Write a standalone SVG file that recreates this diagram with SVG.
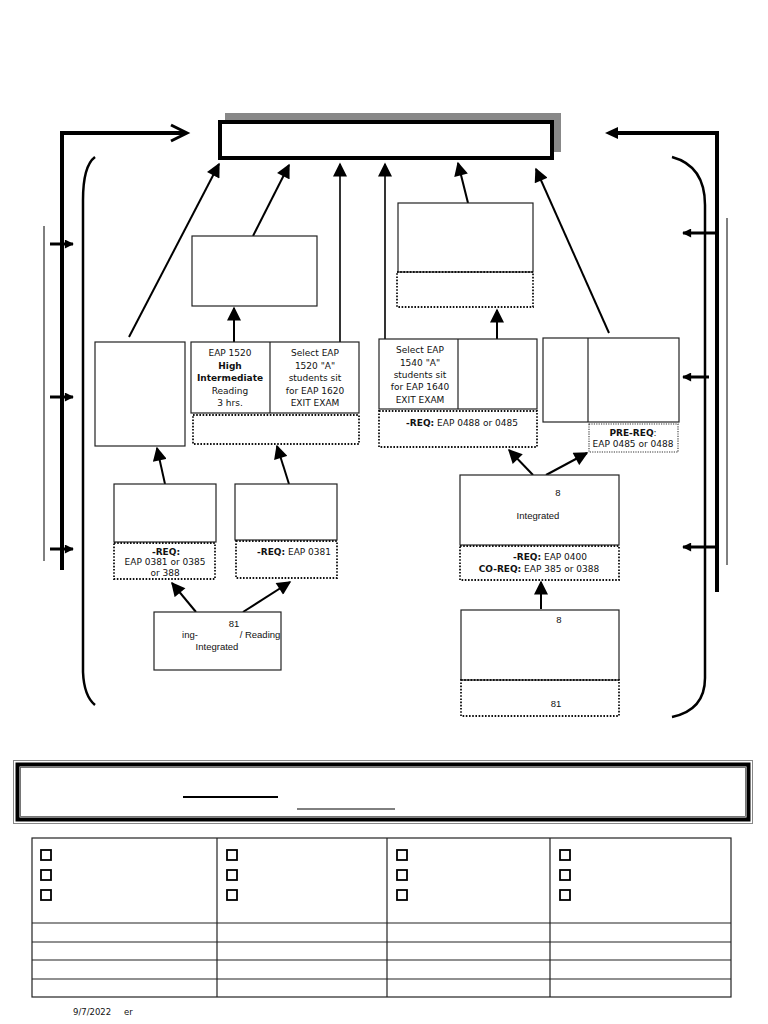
<svg xmlns="http://www.w3.org/2000/svg" width="768" height="1024" viewBox="0 0 768 1024">
<defs>
<marker id="ah" viewBox="0 0 10 10" refX="9" refY="5" markerWidth="15" markerHeight="14" markerUnits="userSpaceOnUse" orient="auto"><path d="M0,0 L10,5 L0,10 z" fill="#000"/></marker>
<marker id="sa" viewBox="0 0 10 10" refX="9" refY="5" markerWidth="10" markerHeight="9" markerUnits="userSpaceOnUse" orient="auto"><path d="M0,0 L10,5 L0,10 z" fill="#000"/></marker>
</defs>
<style>
.box{fill:#fff;stroke:#222;stroke-width:1.2}
.dot{fill:none;stroke:#111;stroke-width:1.8;stroke-dasharray:1.6 1.6}
.dot2{fill:none;stroke:#333;stroke-width:1.1;stroke-dasharray:1.2 1.2}
.con{fill:none;stroke:#000;stroke-width:2;marker-end:url(#ah)}
.conT{fill:none;stroke:#000;stroke-width:1.6;marker-end:url(#ah)}
.side{fill:none;stroke:#000;stroke-width:3;marker-end:url(#sa)}
.thick{fill:none;stroke:#000;stroke-width:4}
.thin{fill:none;stroke:#000;stroke-width:1}
.paren{fill:none;stroke:#000;stroke-width:2.5}
.t{font-family:"DejaVu Sans",Verdana,sans-serif;font-size:9px;fill:#111;text-anchor:middle}
.a{font-family:"Liberation Sans",Arial,sans-serif;font-size:9.5px;fill:#111;text-anchor:middle}
.b{font-weight:bold}
.cb{fill:#fff;stroke:#000;stroke-width:1.8}
.tb{fill:none;stroke:#222;stroke-width:1.2}
.ft{font-family:"DejaVu Sans",Verdana,sans-serif;font-size:8.5px;fill:#111}
</style>

<g id="title">
<rect x="225" y="113" width="336" height="39" fill="#888"/>
<rect x="220" y="122" width="332" height="36" fill="#fff" stroke="#000" stroke-width="4"/>
</g>

<g id="frame">
<path class="thick" d="M62,570 L62,133 L185,133"/>
<path d="M171,125 L187,133 L171,141" fill="none" stroke="#000" stroke-width="3"/>
<path class="thin" d="M44,226 L44,561"/>
<path class="paren" d="M95,157 Q83,166 83,200 L83,672 Q84,696 95,705"/>
<path class="thick" d="M717,592 L717,133 L618,133"/>
<path d="M618,127 L605,133 L618,139 z" fill="#000"/>
<path class="thin" d="M727,218 L727,565"/>
<path class="paren" d="M672,157 Q705,166 705,205 L705,678 Q705,710 672,717"/>
</g>

<g id="connectors">
<line class="side" x1="50" y1="244" x2="73" y2="244"/>
<line class="side" x1="50" y1="397" x2="73" y2="397"/>
<line class="side" x1="50" y1="549" x2="73" y2="549"/>
<line class="side" x1="717" y1="233" x2="683" y2="233"/>
<line class="side" x1="709" y1="377" x2="683" y2="377"/>
<line class="side" x1="717" y1="547" x2="683" y2="547"/>
<line class="con" x1="129" y1="337" x2="219" y2="164"/>
<line class="con" x1="253" y1="236" x2="289" y2="165"/>
<line class="conT" x1="340" y1="342" x2="340" y2="164"/>
<line class="conT" x1="385" y1="339" x2="385" y2="164"/>
<line class="con" x1="468" y1="203" x2="458" y2="163"/>
<line class="con" x1="609" y1="333" x2="536" y2="169"/>
<line class="con" x1="234" y1="342" x2="234" y2="308"/>
<line class="con" x1="497" y1="339" x2="497" y2="310"/>
<line class="con" x1="165" y1="484" x2="157" y2="448"/>
<line class="con" x1="289" y1="484" x2="277" y2="446"/>
<line class="con" x1="196" y1="612" x2="172" y2="583"/>
<line class="con" x1="243" y1="612" x2="290" y2="582"/>
<line class="con" x1="533" y1="475" x2="509" y2="450"/>
<line class="con" x1="546" y1="475" x2="587" y2="453"/>
<line class="con" x1="541" y1="609" x2="541" y2="582"/>
</g>

<g id="node-a"><rect class="box" x="95" y="342" width="90" height="104"/></g>
<g id="node-b"><rect class="box" x="192" y="236" width="125" height="70"/></g>
<g id="node-c">
<rect class="box" x="191" y="342" width="168" height="71"/>
<line x1="270" y1="342" x2="270" y2="413" stroke="#222" stroke-width="1.2"/>
<text class="t" x="230" y="356">EAP 1520</text>
<text class="t b" x="230" y="369">High</text>
<text class="t b" x="230" y="381">Intermediate</text>
<text class="t" x="230" y="394">Reading</text>
<text class="t" x="230" y="406">3 hrs.</text>
<text class="t" x="315" y="356">Select EAP</text>
<text class="t" x="315" y="369">1520 "A"</text>
<text class="t" x="315" y="381">students sit</text>
<text class="t" x="315" y="394">for EAP 1620</text>
<text class="t" x="315" y="406">EXIT EXAM</text>
<rect class="dot" x="193" y="415" width="166" height="29"/>
</g>
<g id="node-d">
<rect class="box" x="114" y="484" width="102" height="58"/>
<rect class="dot" x="114" y="543" width="101" height="36"/>
<text class="t b" x="166" y="555">-REQ:</text>
<text class="t" x="165" y="565">EAP 0381 or 0385</text>
<text class="t" x="165" y="576">or 388</text>
</g>
<g id="node-e">
<rect class="box" x="235" y="484" width="102" height="56"/>
<rect class="dot" x="236" y="541" width="101" height="37"/>
<text class="t" x="294" y="555"><tspan class="b">-REQ:</tspan> EAP 0381</text>
</g>
<g id="node-f">
<rect class="box" x="154" y="612" width="127" height="58"/>
<text class="a" x="234" y="627">81</text>
<text class="a" x="190" y="638">ing-</text>
<text class="a" x="260" y="638">/ Reading</text>
<text class="a" x="217" y="650">Integrated</text>
</g>
<g id="node-g">
<rect class="box" x="398" y="203" width="135" height="69"/>
<rect class="dot" x="397" y="272" width="136" height="35"/>
</g>
<g id="node-h">
<rect class="box" x="379" y="339" width="158" height="70"/>
<line x1="458" y1="339" x2="458" y2="409" stroke="#222" stroke-width="1.2"/>
<text class="t" x="420" y="353">Select EAP</text>
<text class="t" x="420" y="366">1540 "A"</text>
<text class="t" x="420" y="378">students sit</text>
<text class="t" x="420" y="390">for EAP 1640</text>
<text class="t" x="420" y="403">EXIT EXAM</text>
<rect class="dot" x="379" y="411" width="158" height="36"/>
<text class="t" x="462" y="426"><tspan class="b">-REQ:</tspan> EAP 0488 or 0485</text>
</g>
<g id="node-i">
<rect class="box" x="543" y="338" width="136" height="84"/>
<line x1="588" y1="338" x2="588" y2="422" stroke="#222" stroke-width="1.2"/>
<rect class="dot2" x="589" y="424" width="89" height="28"/>
<text class="t" x="633" y="436"><tspan class="b">PRE-REQ</tspan>:</text>
<text class="t" x="633" y="447">EAP 0485 or 0488</text>
</g>
<g id="node-j">
<rect class="box" x="460" y="475" width="159" height="70"/>
<text class="a" x="558" y="496">8</text>
<text class="a" x="538" y="519">Integrated</text>
<rect class="dot" x="460" y="546" width="159" height="34"/>
<text class="t" x="550" y="560"><tspan class="b">-REQ:</tspan> EAP 0400</text>
<text class="t" x="539" y="572"><tspan class="b">CO-REQ:</tspan> EAP 385 or 0388</text>
</g>
<g id="node-k">
<rect class="box" x="461" y="610" width="158" height="70"/>
<text class="a" x="559" y="623">8</text>
<rect class="dot" x="461" y="680" width="158" height="36"/>
<text class="a" x="556" y="707">81</text>
</g>

<g id="banner">
<rect x="13.5" y="760.5" width="739" height="63" fill="none" stroke="#888" stroke-width="1"/>
<rect x="17.5" y="764.5" width="731" height="55" fill="none" stroke="#000" stroke-width="4"/>
<rect x="20.5" y="767.5" width="725" height="49" fill="none" stroke="#555" stroke-width="0.8"/>
<line x1="183" y1="797" x2="278" y2="797" stroke="#000" stroke-width="2"/>
<line x1="297" y1="809" x2="395" y2="809" stroke="#000" stroke-width="1"/>
</g>

<g id="table">
<rect class="tb" x="32" y="838" width="699" height="159"/>
<line class="tb" x1="217" y1="838" x2="217" y2="997"/>
<line class="tb" x1="387" y1="838" x2="387" y2="997"/>
<line class="tb" x1="550" y1="838" x2="550" y2="997"/>
<line class="tb" x1="32" y1="923" x2="731" y2="923"/>
<line class="tb" x1="32" y1="942" x2="731" y2="942"/>
<line class="tb" x1="32" y1="960" x2="731" y2="960"/>
<line class="tb" x1="32" y1="979" x2="731" y2="979"/>
<rect class="cb" x="41" y="850" width="10" height="10"/>
<rect class="cb" x="41" y="870" width="10" height="10"/>
<rect class="cb" x="41" y="890" width="10" height="10"/>
<rect class="cb" x="227" y="850" width="10" height="10"/>
<rect class="cb" x="227" y="870" width="10" height="10"/>
<rect class="cb" x="227" y="890" width="10" height="10"/>
<rect class="cb" x="397" y="850" width="10" height="10"/>
<rect class="cb" x="397" y="870" width="10" height="10"/>
<rect class="cb" x="397" y="890" width="10" height="10"/>
<rect class="cb" x="560" y="850" width="10" height="10"/>
<rect class="cb" x="560" y="870" width="10" height="10"/>
<rect class="cb" x="560" y="890" width="10" height="10"/>
</g>

<g id="footer">
<text class="ft" x="73" y="1015">9/7/2022<tspan x="124">er</tspan></text>
</g>
</svg>
